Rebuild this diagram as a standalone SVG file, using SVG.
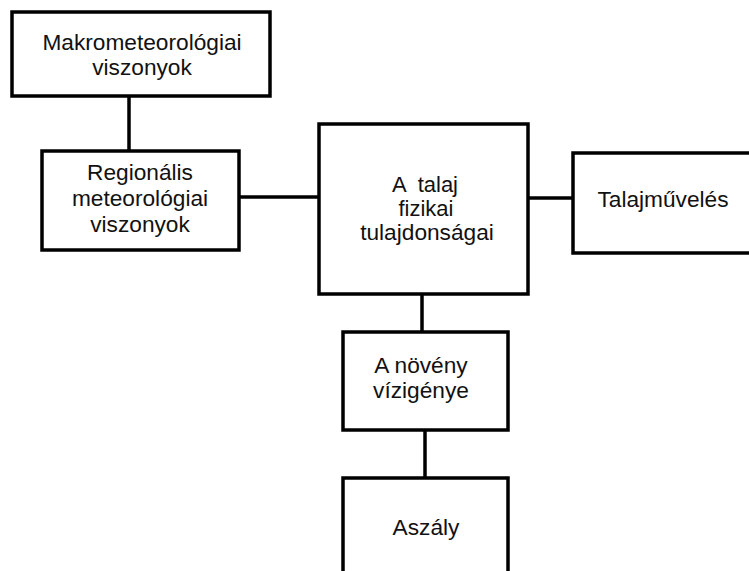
<svg xmlns="http://www.w3.org/2000/svg" width="749" height="571" viewBox="0 0 749 571">
<style>
.box{fill:#fff;stroke:#000;stroke-width:3.5}
.ln{stroke:#000;stroke-width:3.5;fill:none}
text{font-family:"Liberation Sans",Arial,sans-serif;font-size:22.7px;fill:#111;text-anchor:middle}
.sm{font-size:22px}
</style>
<rect width="749" height="571" fill="#fff"/>
<g id="connectors">
<line class="ln" x1="129" y1="96" x2="129" y2="151"/>
<line class="ln" x1="239" y1="197" x2="319" y2="197"/>
<line class="ln" x1="528" y1="198" x2="573" y2="198"/>
<line class="ln" x1="422" y1="294" x2="422" y2="332"/>
<line class="ln" x1="425" y1="430" x2="425" y2="478"/>
</g>
<g id="makro">
<rect class="box" x="12" y="12" width="258" height="84"/>
<text x="142" y="50">Makrometeorológiai</text>
<text x="142" y="75">viszonyok</text>
</g>
<g id="regionalis">
<rect class="box" x="42" y="151" width="197" height="99"/>
<text x="140" y="180">Regionális</text>
<text x="140" y="206">meteorológiai</text>
<text x="140" y="232">viszonyok</text>
</g>
<g id="talaj">
<rect class="box" x="319" y="124" width="209" height="170"/>
<text class="sm" x="425" y="192" xml:space="preserve">A  talaj</text>
<text class="sm" x="426" y="216">fizikai</text>
<text x="427" y="240">tulajdonságai</text>
</g>
<g id="talajmuveles">
<rect class="box" x="573" y="153" width="190" height="100"/>
<text x="663" y="207">Talajművelés</text>
</g>
<g id="noveny">
<rect class="box" x="343" y="332" width="165" height="98"/>
<text x="421" y="373">A növény</text>
<text x="421" y="398">vízigénye</text>
</g>
<g id="aszaly">
<rect class="box" x="343" y="478" width="165" height="110"/>
<text x="426" y="535">Aszály</text>
</g>
</svg>
